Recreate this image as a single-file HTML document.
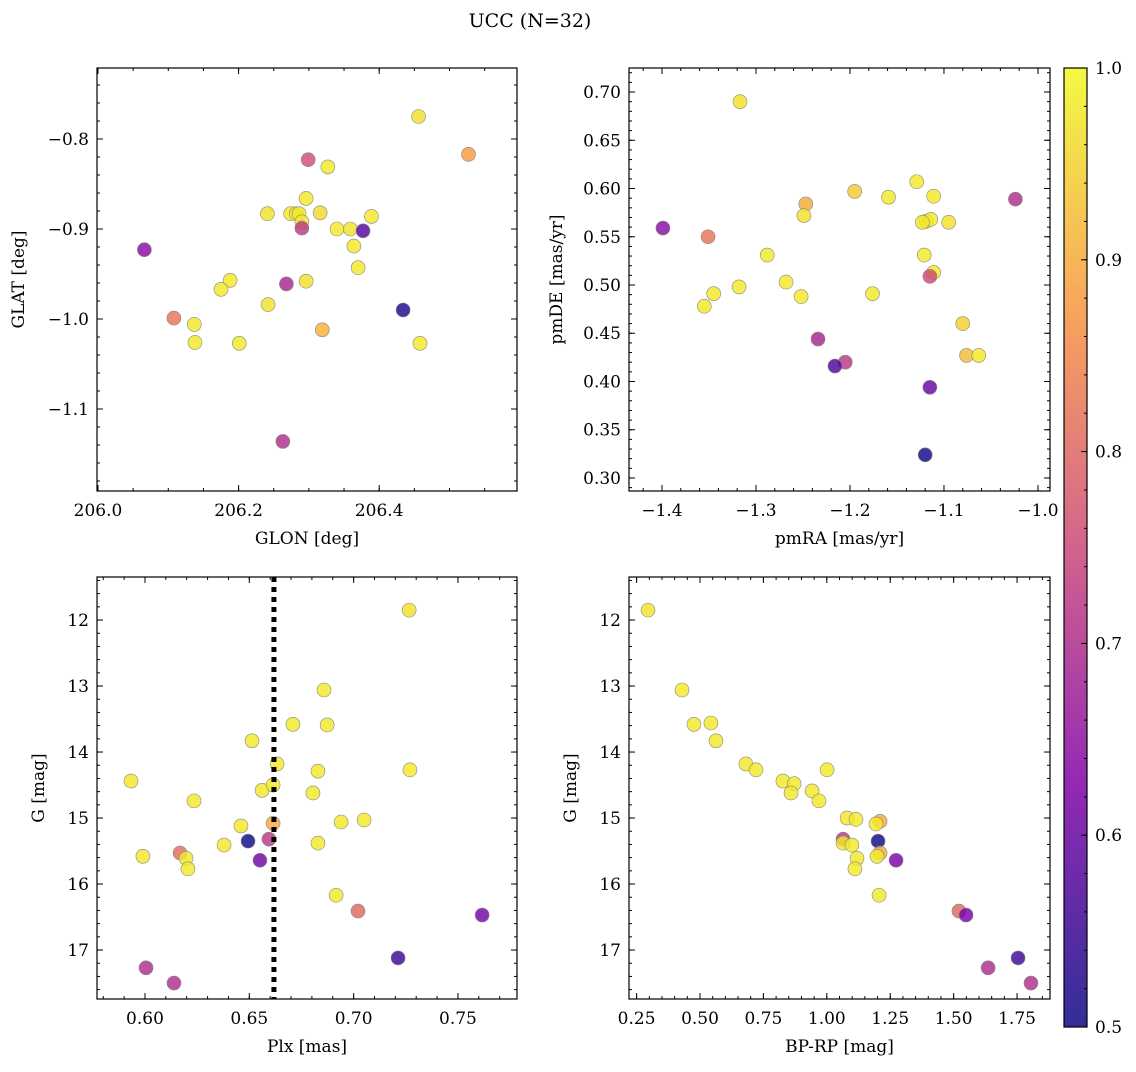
<!DOCTYPE html>
<html><head><meta charset="utf-8"><style>
body{margin:0;background:#fff}
svg text{font-family:"DejaVu Serif","Liberation Serif",serif;fill:#000}
</style></head><body>
<svg id="fig" width="1136" height="1067" viewBox="0 0 1136 1067" xmlns="http://www.w3.org/2000/svg">
<text x="530" y="27" font-size="19" text-anchor="middle">UCC (N=32)</text>
</svg>
<script>
// ---- data ----
const glon = [206.456,206.527,206.299,206.327,206.296,206.241,206.274,206.282,206.286,206.316,206.340,206.359,206.389,206.290,206.290,206.377,206.066,206.364,206.188,206.370,206.296,206.268,206.175,206.242,206.434,206.108,206.137,206.319,206.138,206.201,206.458,206.263];
const glat = [-0.775,-0.817,-0.823,-0.831,-0.866,-0.883,-0.883,-0.883,-0.883,-0.882,-0.900,-0.900,-0.886,-0.892,-0.899,-0.902,-0.923,-0.919,-0.957,-0.943,-0.958,-0.961,-0.967,-0.984,-0.990,-0.999,-1.006,-1.012,-1.026,-1.027,-1.027,-1.136];
const prob1 = [0.97,0.88,0.76,0.98,0.98,0.97,0.98,0.98,0.98,0.96,0.98,0.97,0.98,0.98,0.72,0.58,0.64,0.98,0.98,0.98,0.97,0.69,0.98,0.97,0.52,0.82,0.98,0.91,0.98,0.98,0.98,0.70];
const pmra = [-1.317,-1.399,-1.351,-1.247,-1.195,-1.249,-1.159,-1.129,-1.111,-1.024,-1.119,-1.114,-1.095,-1.288,-1.345,-1.318,-1.268,-1.252,-1.355,-1.121,-1.111,-1.115,-1.176,-1.080,-1.076,-1.063,-1.234,-1.205,-1.216,-1.115,-1.120,-1.123];
const pmde = [0.690,0.559,0.550,0.584,0.597,0.572,0.591,0.607,0.592,0.589,0.566,0.568,0.565,0.531,0.491,0.498,0.503,0.488,0.478,0.531,0.513,0.509,0.491,0.460,0.427,0.427,0.444,0.420,0.416,0.394,0.324,0.565];
const prob2 = [0.97,0.64,0.82,0.90,0.94,0.97,0.98,0.98,0.98,0.70,0.98,0.98,0.97,0.98,0.98,0.98,0.98,0.98,0.98,0.98,0.98,0.75,0.98,0.95,0.92,0.98,0.69,0.72,0.57,0.60,0.50,0.98];
const plx = [0.7266,0.6858,0.6709,0.6873,0.6513,0.6633,0.5933,0.6829,0.7270,0.6235,0.6561,0.6614,0.6805,0.6460,0.6614,0.6940,0.7050,0.6594,0.6494,0.6379,0.6829,0.6168,0.5990,0.6197,0.6206,0.6551,0.6916,0.7021,0.7616,0.7213,0.6005,0.6139];
const gmag = [11.85,13.06,13.58,13.59,13.83,14.18,14.44,14.29,14.27,14.74,14.58,14.50,14.62,15.12,15.08,15.06,15.03,15.32,15.35,15.41,15.38,15.53,15.58,15.61,15.77,15.64,16.17,16.41,16.47,17.12,17.27,17.50];
const prob3 = [0.97,0.98,0.98,0.98,0.98,0.98,0.98,0.98,0.98,0.98,0.98,0.98,0.98,0.98,0.90,0.98,0.98,0.72,0.50,0.98,0.98,0.81,0.98,0.98,0.98,0.61,0.98,0.80,0.61,0.55,0.70,0.70];
const bprp = [0.295,0.429,0.476,0.543,0.563,0.681,0.721,0.827,0.871,0.859,0.942,0.969,1.001,1.080,1.115,1.210,1.194,1.064,1.064,1.099,1.202,1.210,1.198,1.119,1.111,1.273,1.206,1.521,1.549,1.754,1.636,1.805];
const gmag2 = [11.85,13.06,13.58,13.56,13.83,14.18,14.27,14.44,14.48,14.62,14.59,14.74,14.27,15.00,15.02,15.05,15.09,15.32,15.38,15.41,15.35,15.53,15.58,15.61,15.77,15.64,16.17,16.41,16.47,17.12,17.27,17.50];
const prob4 = [0.97,0.98,0.98,0.98,0.98,0.98,0.98,0.98,0.98,0.98,0.98,0.98,0.98,0.98,0.98,0.90,0.98,0.72,0.98,0.98,0.50,0.90,0.98,0.98,0.98,0.62,0.98,0.80,0.62,0.55,0.70,0.70];
const plxCut = [0.6618];
const cbTicks = [0.5,0.6,0.7,0.8,0.9,1.0];

// ---- helpers ----
const svg = document.getElementById('fig');
const NS = 'http://www.w3.org/2000/svg';
function mk(tag, attrs, parent){const e=document.createElementNS(NS,tag);for(const k in attrs)e.setAttribute(k,attrs[k]);(parent||svg).appendChild(e);return e;}
const stops=[[0,[13,8,135]],[0.25,[126,3,168]],[0.5,[204,71,120]],[0.75,[248,149,64]],[1,[240,249,33]]];
function plasma(v){let t=Math.max(0,Math.min(1,(v-0.5)/0.5));for(let i=1;i<stops.length;i++){if(t<=stops[i][0]){const a=stops[i-1],b=stops[i];const f=(t-a[0])/(b[0]-a[0]);const c=a[1].map((x,j)=>Math.round(x+(b[1][j]-x)*f));return `rgb(${c[0]},${c[1]},${c[2]})`;}}return 'rgb(240,249,33)';}
function fmt(v,d){return (v<0?'\u2212':'')+Math.abs(v).toFixed(d);}

function panel(p){
  const g=mk('g',{});
  
  
  const sx=v=>p.x0+(v-p.xmin)/(p.xmax-p.xmin)*(p.x1-p.x0);
  const sy=p.invert?(v=>p.y0+(v-p.ymin)/(p.ymax-p.ymin)*(p.y1-p.y0)):(v=>p.y1-(v-p.ymin)/(p.ymax-p.ymin)*(p.y1-p.y0));
  for(let i=0;i<p.xs.length;i++){
    const c=mk('circle',{cx:sx(p.xs[i]),cy:sy(p.ys[i]),r:7,fill:plasma(p.cs[i]),'fill-opacity':0.82,stroke:'#888','stroke-width':0.6},g);
    
    
  }
  if(p.vline){for(const v of p.vline){const l=mk('line',{x1:sx(v),x2:sx(v),y1:p.y0,y2:p.y1,stroke:'#000','stroke-width':5,'stroke-dasharray':'5,5'},g);
    
    }}
  const fr=mk('rect',{x:p.x0,y:p.y0,width:p.x1-p.x0,height:p.y1-p.y0,fill:'none',stroke:'#000','stroke-width':1.2},g);
  
  
  const eps=1e-9;
  for(let v=Math.ceil(p.xmin/p.xminor-eps)*p.xminor;v<=p.xmax+eps;v+=p.xminor){const x=sx(v);
    mk('line',{x1:x,x2:x,y1:p.y1,y2:p.y1-3,stroke:'#000'},g);mk('line',{x1:x,x2:x,y1:p.y0,y2:p.y0+3,stroke:'#000'},g);}
  for(let v=Math.ceil(p.ymin/p.yminor-eps)*p.yminor;v<=p.ymax+eps;v+=p.yminor){const y=sy(v);
    mk('line',{x1:p.x0,x2:p.x0+3,y1:y,y2:y,stroke:'#000'},g);mk('line',{x1:p.x1,x2:p.x1-3,y1:y,y2:y,stroke:'#000'},g);}
  for(const v of p.xticks){const x=sx(v);
    mk('line',{x1:x,x2:x,y1:p.y1,y2:p.y1-6,stroke:'#000'},g);mk('line',{x1:x,x2:x,y1:p.y0,y2:p.y0+6,stroke:'#000'},g);
    const t=mk('text',{x:x,y:p.y1+25,'font-size':17,'text-anchor':'middle'},g);t.textContent=fmt(v,p.xd);
    
    }
  for(const v of p.yticks){const y=sy(v);
    mk('line',{x1:p.x0,x2:p.x0+6,y1:y,y2:y,stroke:'#000'},g);mk('line',{x1:p.x1,x2:p.x1-6,y1:y,y2:y,stroke:'#000'},g);
    const t=mk('text',{x:p.x0-8,y:y+6,'font-size':17,'text-anchor':'end'},g);t.textContent=fmt(v,p.yd);
    
    }
  const xl=mk('text',{x:(p.x0+p.x1)/2,y:p.y1+53,'font-size':17,'text-anchor':'middle'},g);xl.textContent=p.xlabel;
  
  
  const yx=p.ylx, yy=(p.y0+p.y1)/2;
  const yl=mk('text',{x:yx,y:yy,'font-size':17,'text-anchor':'middle',transform:`rotate(-90 ${yx} ${yy})`},g);yl.textContent=p.ylabel;
  
  
}

panel({name:'glon-glat-panel',x0:97,x1:517,y0:68,y1:491,xmin:205.9986,xmax:206.596,ymin:-1.1911,ymax:-0.7211,
  xticks:[206.0,206.2,206.4],yticks:[-0.8,-0.9,-1.0,-1.1],xminor:0.05,yminor:0.02,xd:1,yd:1,
  xs:glon,ys:glat,cs:prob1,xlabel:'GLON [deg]',ylabel:'GLAT [deg]',ylx:24});
panel({name:'pm-panel',x0:629,x1:1050,y0:68,y1:491,xmin:-1.4351,xmax:-0.9872,ymin:0.2865,ymax:0.7249,
  xticks:[-1.4,-1.3,-1.2,-1.1,-1.0],yticks:[0.30,0.35,0.40,0.45,0.50,0.55,0.60,0.65,0.70],xminor:0.02,yminor:0.01,xd:1,yd:2,
  xs:pmra,ys:pmde,cs:prob2,xlabel:'pmRA [mas/yr]',ylabel:'pmDE [mas/yr]',ylx:562});
panel({name:'plx-g-panel',x0:97,x1:517,y0:577,y1:999,xmin:0.5770,xmax:0.7783,ymin:11.348,ymax:17.742,invert:true,
  xticks:[0.60,0.65,0.70,0.75],yticks:[12,13,14,15,16,17],xminor:0.01,yminor:0.2,xd:2,yd:0,
  xs:plx,ys:gmag,cs:prob3,vline:plxCut,xlabel:'Plx [mas]',ylabel:'G [mag]',ylx:44});
panel({name:'cmd-panel',x0:629,x1:1050,y0:577,y1:999,xmin:0.2200,xmax:1.880,ymin:11.348,ymax:17.742,invert:true,
  xticks:[0.25,0.5,0.75,1.0,1.25,1.5,1.75],yticks:[12,13,14,15,16,17],xminor:0.05,yminor:0.2,xd:2,yd:0,
  xs:bprp,ys:gmag2,cs:prob4,xlabel:'BP-RP [mag]',ylabel:'G [mag]',ylx:576});

(function(){
  const x0=1064,x1=1087,y0=68,y1=1027;
  const g=mk('g',{});
  
  
  const defs=mk('defs',{},g);
  const lg=mk('linearGradient',{id:'cbg',x1:0,y1:1,x2:0,y2:0},defs);
  for(let i=0;i<=20;i++){const v=0.5+i*0.025;mk('stop',{offset:(i/20),'stop-color':plasma(v),'stop-opacity':0.85},lg);}
  mk('rect',{x:x0,y:y0,width:x1-x0,height:y1-y0,fill:'url(#cbg)',stroke:'#000','stroke-width':1.2},g);
  const sy=v=>y1-(v-0.5)/0.5*(y1-y0);
  for(let v=0.5;v<=1.0001;v+=0.02){mk('line',{x1:x1,x2:x1-3,y1:sy(v),y2:sy(v),stroke:'#000'},g);}
  for(const v of cbTicks){const y=sy(v);mk('line',{x1:x1,x2:x1-6,y1:y,y2:y,stroke:'#000'},g);
    const t=mk('text',{x:x1+8,y:y+6,'font-size':17},g);t.textContent=v.toFixed(1);
    
    }
})();
</script>
</body></html>
